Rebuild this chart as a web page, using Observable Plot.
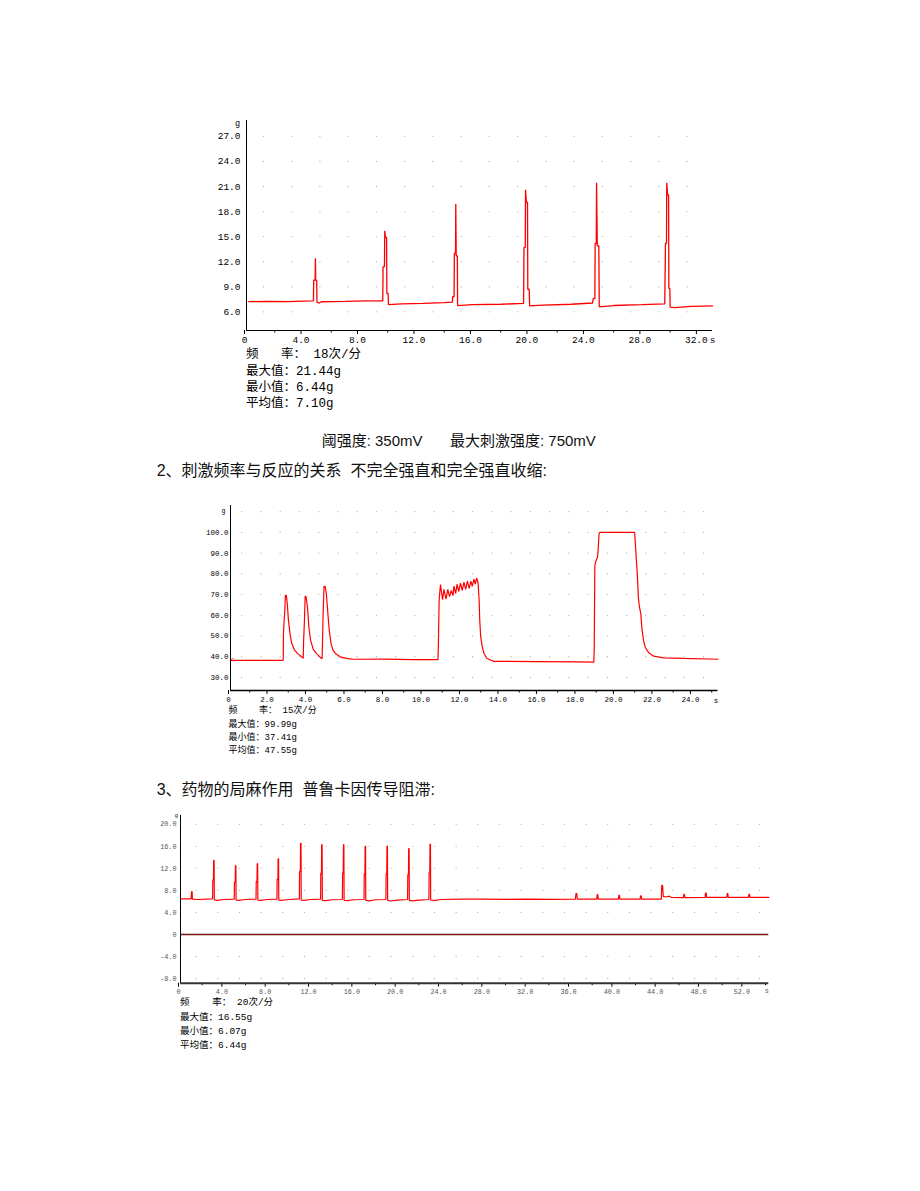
<!DOCTYPE html>
<html>
<head>
<meta charset="utf-8">
<script src="https://cdn.jsdelivr.net/npm/d3@7"></script>
<script src="https://cdn.jsdelivr.net/npm/@observablehq/plot@0.6"></script>
<style>
  body { margin: 0; background: #fff; }
  #page { position: relative; width: 920px; height: 1191px; overflow: hidden; background: #fff; }
  .txt { position: absolute; white-space: pre; color: #000; }
  .chart { position: absolute; }
  .chart svg { overflow: visible; }
</style>
</head>
<body>
<div id="page"></div>
<script>
// ---------- Chart 1: single twitches, threshold / maximal stimulus ----------
const c1Time  = [0.15, 1.5, 3.0, 4.0, 4.74,
  4.76, 4.86, 4.88, 4.9, 4.97, 4.99,
  5.15, 5.3, 7.0, 8.5, 9.65,
  9.67, 9.77, 9.79, 9.84, 9.92, 9.94, 10.03, 10.05,
  11.0, 12.5, 14.0, 14.58,
  14.6, 14.7, 14.72, 14.8, 14.82, 14.85, 14.93, 14.95,
  16.0, 18.0, 19.62,
  19.65, 19.74, 19.76, 19.82, 19.9, 19.92, 20.02, 20.05,
  21.0, 23.0, 24.5,
  24.56, 24.67, 24.69, 24.77, 24.79, 24.84, 24.95, 24.98,
  26.0, 28.0, 29.62,
  29.67, 29.74, 29.76, 29.82, 29.89, 29.91, 29.98, 30.0,
  30.3, 31.5, 33.0];
const c1Force = [7.22, 7.25, 7.22, 7.28, 7.3,
  9.8, 9.8, 12.4, 9.8, 9.75, 7.15,
  7.05, 7.2, 7.25, 7.3, 7.3,
  11.4, 11.4, 15.7, 14.9, 14.9, 8.2, 8.2, 6.85,
  6.95, 7.0, 7.1, 7.15,
  7.8, 7.8, 13.0, 13.0, 18.9, 12.7, 12.7, 6.75,
  6.85, 6.9, 7.0,
  13.7, 13.7, 20.6, 19.1, 19.1, 8.7, 8.7, 6.7,
  6.8, 6.9, 7.05,
  7.6, 7.6, 14.2, 14.2, 21.44, 13.9, 13.9, 6.6,
  6.75, 6.85, 6.95,
  14.2, 14.2, 21.44, 20.0, 20.0, 8.8, 8.8, 6.55,
  6.5, 6.65, 6.7];
const c1XTicks = [0, 4, 8, 12, 16, 20, 24, 28, 32];
const c1XMinor = [2, 6, 10, 14, 18, 22, 26, 30];
const c1YTicks = [6, 9, 12, 15, 18, 21, 24, 27];
const c1GridX  = [1.2, 3.2, 5.2, 7.2, 9.2, 11.2, 13.2, 15.2, 17.2, 19.2, 21.2, 23.2, 25.2, 27.2, 29.2, 31.2];
const c1GridY  = [6, 9, 12, 15, 18, 21, 24, 27];
const c1Stats  = ["频   率： 18次/分", "最大值：21.44g", "最小值：6.44g", "平均值：7.10g"];
const c1Caption = ["阈强度: 350mV", "最大刺激强度: 750mV"];

// ---------- Chart 2: stimulation frequency, incomplete / complete tetanus ----------
const c2Time  = [0, 1.5, 2.74, 2.75, 2.78, 2.82, 2.85, 2.9, 2.95, 3.01, 3.09, 3.18, 3.32, 3.5, 3.68, 3.78,
  3.8, 3.84, 3.88, 3.92, 4.0, 4.07, 4.16, 4.3, 4.48, 4.66, 4.76,
  4.78, 4.81, 4.86, 4.92, 4.98, 5.06, 5.13, 5.22, 5.32, 5.47, 5.74, 6.09, 6.4, 8.0, 9.5, 10.78,
  10.8, 10.84, 10.91, 11.02, 11.09, 11.2, 11.29, 11.38, 11.47, 11.56, 11.61, 11.7, 11.77, 11.86,
  11.95, 12.04, 12.13, 12.22, 12.31, 12.4, 12.49, 12.56, 12.65, 12.72, 12.79, 12.86,
  12.92, 12.95, 13.0, 13.08, 13.17, 13.31, 13.53, 13.7, 16.0, 18.0, 18.88,
  18.9, 18.93, 18.98, 19.07, 19.1, 19.15, 19.19, 21.0,
  21.15, 21.19, 21.25, 21.32, 21.37, 21.46, 21.55, 21.73, 21.99, 22.51, 23.55, 25.33];
const c2Force = [38.3, 38.3, 38.3, 51, 56.4, 62, 69.6, 69.6, 65.6, 57.7, 51.3, 46.5, 43.3, 41.4, 40.1, 39.3,
  48, 57, 69.2, 69.2, 64, 54.5, 48, 43.6, 41.4, 39.8, 39.0,
  47.3, 60, 74, 74, 70.4, 60.8, 52.9, 46.5, 43.3, 41.4, 39.8, 39.1, 38.8, 38.9, 38.6, 38.6,
  44.9, 67.2, 74.8, 67.5, 72.5, 67.8, 72.5, 69, 72, 69.5, 74.1, 70.5, 75, 71.5,
  75.5, 72, 76, 72.5, 76.5, 73, 76.5, 74, 77.5, 75, 78, 76,
  67.2, 57.7, 49.7, 44.9, 41.7, 39.3, 38.3, 37.8, 37.7, 37.5, 37.41,
  44.6, 84.1, 86, 88.1, 91.3, 99.4, 99.99, 99.99,
  77.6, 68.8, 63.9, 60.7, 54.3, 47.8, 44.6, 41.9, 40.3, 39.5, 39.2, 38.8];
const c2Marker = [{t: 0, g: 38.5}];
const c2XTicks = [0, 2, 4, 6, 8, 10, 12, 14, 16, 18, 20, 22, 24];
const c2XMinor = [1, 3, 5, 7, 9, 11, 13, 15, 17, 19, 21, 23, 25];
const c2YTicks = [30, 40, 50, 60, 70, 80, 90, 100];
const c2GridX  = [0.58, 1.58, 2.58, 3.58, 4.58, 5.58, 6.58, 7.58, 8.58, 9.58, 10.58, 11.58, 12.58,
  13.58, 14.58, 15.58, 16.58, 17.58, 18.58, 19.58, 20.58, 21.58, 22.58, 23.58, 24.58];
const c2GridY  = [30, 40, 50, 60, 70, 80, 90, 100, 110];
const c2Stats  = ["频    率： 15次/分", "最大值：99.99g", "最小值：37.41g", "平均值：47.55g"];

// ---------- Chart 3: procaine conduction block ----------
const c3Time  = [0, 0.9, 0.98, 1.02, 1.07, 1.1, 1.5, 2.96,
  2.98, 3.04, 3.06, 3.1, 3.12, 3.3, 4.0, 4.96,
  4.98, 5.05, 5.07, 5.11, 5.13, 5.4, 6.0, 6.97,
  6.99, 7.06, 7.08, 7.12, 7.14, 7.4, 8.0, 8.9,
  8.92, 8.99, 9.01, 9.05, 9.07, 9.3, 10.0, 10.97,
  10.99, 11.06, 11.08, 11.12, 11.14, 11.4, 12.0, 12.93,
  12.95, 13.01, 13.03, 13.07, 13.09, 13.4, 14.0, 14.94,
  14.96, 15.02, 15.04, 15.08, 15.1, 15.4, 16.0, 16.94,
  16.96, 17.02, 17.04, 17.08, 17.1, 17.4, 18.0, 18.96,
  18.98, 19.04, 19.06, 19.1, 19.12, 19.4, 20.0, 20.96,
  20.98, 21.04, 21.06, 21.1, 21.12, 21.4, 22.0, 22.93,
  22.95, 23.01, 23.03, 23.07, 23.09, 23.4, 24.0, 26.0, 28.0, 30.0, 32.0, 34.0, 36.45,
  36.5, 36.58, 36.62, 38.42, 38.46, 38.52, 38.56, 40.42, 40.46, 40.52, 40.56,
  42.42, 42.46, 42.52, 42.56, 44.38, 44.42, 44.5, 44.56, 44.8, 45.1, 45.3,
  46.42, 46.46, 46.52, 46.56, 48.42, 48.46, 48.52, 48.56, 50.42, 50.46, 50.52, 50.56,
  52.42, 52.46, 52.52, 52.56, 54.3];
const c3Force = [6.45, 6.45, 6.5, 7.8, 7.8, 6.4, 6.35, 6.45,
  9.9, 9.9, 13.45, 13.45, 6.3, 6.2, 6.35, 6.4,
  9.5, 9.5, 12.5, 12.5, 6.25, 6.2, 6.35, 6.4,
  9.6, 9.6, 12.85, 12.85, 6.25, 6.2, 6.35, 6.4,
  10.0, 10.0, 13.76, 13.76, 6.25, 6.2, 6.35, 6.45,
  11.45, 11.45, 16.55, 16.55, 6.25, 6.2, 6.35, 6.4,
  11.15, 11.15, 16.3, 16.3, 6.2, 6.15, 6.3, 6.35,
  11.15, 11.15, 16.3, 16.3, 6.2, 6.15, 6.3, 6.35,
  11.0, 11.0, 16.0, 16.0, 6.2, 6.1, 6.3, 6.35,
  11.0, 11.0, 16.06, 16.06, 6.2, 6.07, 6.25, 6.35,
  10.85, 10.85, 15.6, 15.6, 6.2, 6.1, 6.25, 6.35,
  11.3, 11.3, 16.4, 16.4, 6.25, 6.15, 6.35, 6.4, 6.4, 6.38, 6.4, 6.38, 6.4,
  7.4, 7.4, 6.4, 6.4, 7.25, 7.25, 6.4, 6.4, 7.1, 7.1, 6.4,
  6.4, 7.0, 7.0, 6.4, 6.4, 8.9, 8.9, 6.9, 6.8, 6.95, 6.75,
  6.7, 7.3, 7.3, 6.7, 6.72, 7.5, 7.5, 6.72, 6.72, 7.4, 7.4, 6.72,
  6.72, 7.3, 7.3, 6.72, 6.72];
const c3XTicks = [0, 4, 8, 12, 16, 20, 24, 28, 32, 36, 40, 44, 48, 52];
const c3XMinor = [2, 6, 10, 14, 18, 22, 26, 30, 34, 38, 42, 46, 50, 54];
const c3YTicks = [-8, -4, 0, 4, 8, 12, 16, 20];
const c3GridX  = [1.44, 3.44, 5.44, 7.44, 9.44, 11.44, 13.44, 15.44, 17.44, 19.44, 21.44, 23.44, 25.44,
  27.44, 29.44, 31.44, 33.44, 35.44, 37.44, 39.44, 41.44, 43.44, 45.44, 47.44, 49.44, 51.44, 53.44];
const c3GridY  = [-8, -4, 4, 8, 12, 16, 20];
const c3Zero   = [0];
const c3Stats  = ["频    率： 20次/分", "最大值：16.55g", "最小值：6.07g", "平均值：6.44g"];

const titles = ["2、刺激频率与反应的关系  不完全强直和完全强直收缩:", "3、药物的局麻作用  普鲁卡因传导阻滞:"];

// ---------- helpers ----------
const page = document.getElementById("page");
const MONO = "'Liberation Mono','DejaVu Sans Mono','Noto Sans CJK SC',monospace";
const fmt = v => v === 0 ? "0" : v.toFixed(1);

function addText(str, left, cy, size, family, color) {
  const d = document.createElement("div");
  d.className = "txt";
  d.textContent = str;
  d.style.left = left + "px";
  d.style.top = (cy - size / 2) + "px";
  d.style.fontSize = size + "px";
  d.style.lineHeight = size + "px";
  d.style.fontFamily = family;
  if (color) d.style.color = color;
  page.appendChild(d);
}

function makeChart(o) {
  const data = o.time.map((t, i) => ({t, g: o.force[i]}));
  const ml = 50, mr = 20, mt = 15, mb = 25;
  const width = o.frame.x1 - o.frame.x0 + ml + mr;
  const height = o.frame.y1 - o.frame.y0 + mt + mb;
  const marks = [
    Plot.dot(d3.cross(o.gridX, o.gridY), {x: d => d[0], y: d => d[1], r: 0.65, fill: "#b4b4b4", stroke: "none"}),
    ...(o.extra || []),
    Plot.line(data, {x: "t", y: "g", stroke: "#ff0000", strokeWidth: o.lw || 1.2, strokeLinejoin: "miter"}),
    Plot.axisY(o.yTicks, {anchor: "left", tickSize: 0, tickPadding: o.yPad, tickFormat: fmt, label: null, fill: o.labelColor, fontSize: o.fs}),
    Plot.axisX(o.xTicks, {anchor: "bottom", tickSize: 4, tickPadding: o.xPad, tickFormat: fmt, label: null, dx: -2, fill: o.labelColor, stroke: "#000", fontSize: o.fs}),
    Plot.axisX(o.xMinor, {anchor: "bottom", tickSize: 2.5, tickFormat: () => "", label: null, stroke: "#000"}),
    Plot.ruleX(o.xDomain.slice(0, 1), {stroke: "#000", strokeWidth: 1}),
    Plot.ruleY(o.yDomain.slice(0, 1), {stroke: o.xAxisColor || "#000", strokeWidth: o.xAxisWidth || 1}),
    Plot.text(["g"], {frameAnchor: "top-left", textAnchor: "middle", lineAnchor: "middle", dx: o.gOff[0], dy: o.gOff[1], fontSize: o.gfs || (o.fs - 1), fill: "#000"}),
    Plot.text(["s"], {frameAnchor: "bottom-right", textAnchor: "middle", lineAnchor: "middle", dx: o.sOff[0], dy: o.sOff[1], fontSize: o.fs, fill: o.labelColor})
  ];
  const svg = Plot.plot({
    width, height, marginLeft: ml, marginRight: mr, marginTop: mt, marginBottom: mb,
    style: {fontFamily: MONO, fontSize: o.fs + "px", color: "#000", background: "transparent", overflow: "visible"},
    x: {domain: o.xDomain, label: null},
    y: {domain: o.yDomain, label: null},
    marks
  });
  const wrap = document.createElement("div");
  wrap.className = "chart";
  wrap.style.left = (o.frame.x0 - ml) + "px";
  wrap.style.top = (o.frame.y0 - mt) + "px";
  wrap.appendChild(svg);
  page.appendChild(wrap);
}

// ---------- Chart 1 ----------
makeChart({
  time: c1Time, force: c1Force,
  frame: {x0: 245.7, x1: 711.7, y0: 120, y1: 330},
  xDomain: [0, 33.0], yDomain: [3.76, 28.9],
  xTicks: c1XTicks, xMinor: c1XMinor, yTicks: c1YTicks,
  gridX: c1GridX, gridY: c1GridY,
  fs: 9.5, yPad: 6, xPad: 1.5, labelColor: "#000",
  gOff: [-9, 3], sOff: [0, 9], lw: 1.3
});
c1Stats.forEach((s, i) => addText(s, 246, [355, 372, 388, 404][i], 12.5, MONO));
addText(c1Caption[0], 321.7, 440, 15, "'Liberation Sans','Noto Sans CJK SC',sans-serif", "#111");
addText(c1Caption[1], 450, 440, 15, "'Liberation Sans','Noto Sans CJK SC',sans-serif", "#111");

// ---------- Section 2 ----------
addText(titles[0], 156.7, 471, 16, "'Liberation Sans','Noto Sans CJK SC',sans-serif", "#111");
makeChart({
  time: c2Time, force: c2Force,
  frame: {x0: 229.5, x1: 717, y0: 505, y1: 690},
  xDomain: [0, 25.33], yDomain: [23.72, 113.0],
  xTicks: c2XTicks, xMinor: c2XMinor, yTicks: c2YTicks,
  gridX: c2GridX, gridY: c2GridY,
  fs: 7.5, yPad: 2, xPad: 2, labelColor: "#000",
  gOff: [-7, 5], sOff: [-2, 10], lw: 1.2, xAxisWidth: 1.6,
  extra: [Plot.text(c2Marker, {x: "t", y: "g", text: () => "<", fill: "#ff0000", fontSize: 8, dx: 2})]
});
c2Stats.forEach((s, i) => addText(s, 228.5, [711, 725, 738, 751][i], 9, MONO));

// ---------- Section 3 ----------
addText(titles[1], 156.7, 790, 16, "'Liberation Sans','Noto Sans CJK SC',sans-serif", "#111");
makeChart({
  time: c3Time, force: c3Force,
  frame: {x0: 180, x1: 768.3, y0: 815, y1: 982.7},
  xDomain: [0, 54.3], yDomain: [-8.85, 21.6],
  xTicks: c3XTicks, xMinor: c3XMinor, yTicks: c3YTicks,
  gridX: c3GridX, gridY: c3GridY,
  fs: 6.8, yPad: 4, xPad: 1.5, labelColor: "#555",
  gOff: [-4, 0], gfs: 5.5, sOff: [-2, 8], lw: 1.2, xAxisWidth: 2, xAxisColor: "#333",
  extra: [Plot.ruleY(c3Zero, {stroke: "#7a1414", strokeWidth: 1.4})]
});
c3Stats.forEach((s, i) => addText(s, 180, [1003, 1018, 1032, 1046][i], 9.5, MONO));
</script>
</body>
</html>
